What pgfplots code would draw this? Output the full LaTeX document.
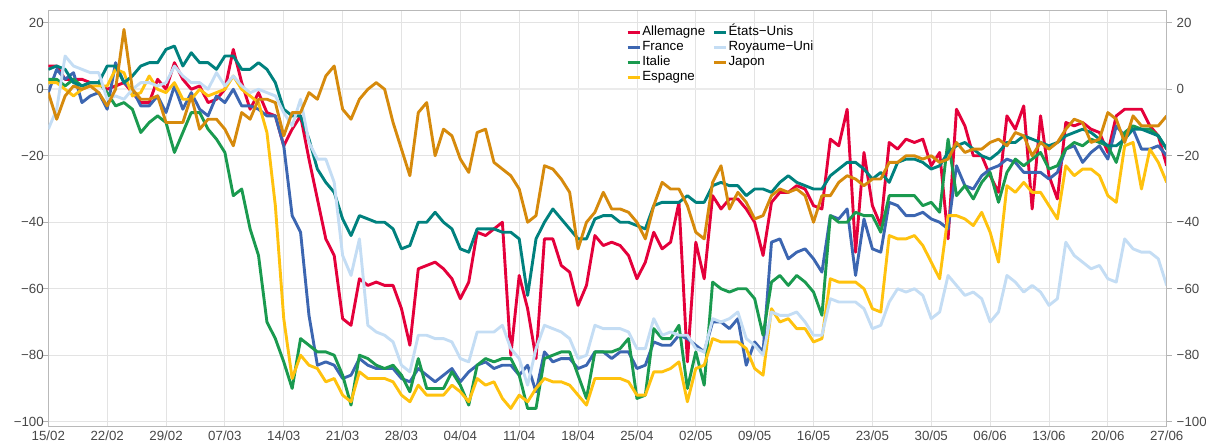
\documentclass[border=0pt]{standalone}
\usepackage{fontspec}
\setmainfont{Liberation Sans}
\usepackage{pgfplots}
\usepackage{pgfplotstable}
\pgfplotsset{compat=1.18}

\definecolor{de}{HTML}{E4003B}
\definecolor{fr}{HTML}{3C66B1}
\definecolor{it}{HTML}{1A9A4F}
\definecolor{es}{HTML}{FFC20E}
\definecolor{us}{HTML}{00817E}
\definecolor{uk}{HTML}{C4DDF4}
\definecolor{jp}{HTML}{D68A0C}

% one value per day, from 15/02 (day 0) to 27/06 (day 133)
\pgfplotstableread[row sep=\\]{v\\
7\\7\\3\\3\\3\\2\\2\\0\\1\\2\\-1\\-4\\-4\\3\\0\\8\\3\\0\\1\\-4\\-3\\0\\12\\
2\\-6\\-1\\-7\\-8\\-17\\-12\\-8\\-21\\-33\\-45\\-50\\-69\\-71\\-57\\-59\\-58\\-59\\-59\\-66\\-77\\-54\\-53\\
-52\\-54\\-57\\-63\\-58\\-43\\-44\\-42\\-40\\-80\\-56\\-66\\-81\\-45\\-45\\-53\\-55\\-65\\-59\\-44\\-47\\-46\\
-47\\-50\\-57\\-52\\-43\\-48\\-46\\-34\\-82\\-46\\-57\\-32\\-36\\-33\\-33\\-36\\-40\\-50\\-34\\-31\\-31\\-29\\-30\\
-35\\-36\\-15\\-17\\-6\\-49\\-19\\-35\\-41\\-16\\-18\\-15\\-16\\-15\\-23\\-19\\-45\\-6\\-11\\-20\\-20\\-26\\-31\\
-8\\-12\\-5\\-36\\-8\\-26\\-33\\-10\\-11\\-10\\-12\\-13\\-19\\-8\\-6\\-6\\-6\\-11\\-14\\-23\\
}\deTable

\pgfplotstableread[row sep=\\]{v\\
-1\\6\\3\\5\\-4\\-2\\-1\\-6\\8\\2\\0\\-5\\-5\\-2\\-7\\1\\-6\\-1\\-6\\-8\\-2\\-4\\0\\
-5\\-5\\-6\\-8\\-8\\-17\\-38\\-43\\-68\\-83\\-82\\-83\\-87\\-86\\-81\\-83\\-84\\-84\\-84\\-87\\-88\\-84\\-86\\
-88\\-86\\-84\\-88\\-85\\-83\\-82\\-84\\-83\\-83\\-86\\-83\\-91\\-79\\-82\\-81\\-81\\-84\\-83\\-79\\-79\\-81\\
-79\\-79\\-84\\-83\\-76\\-77\\-77\\-74\\-75\\-77\\-79\\-70\\-70\\-72\\-69\\-83\\-76\\-79\\-46\\-45\\-51\\-49\\-48\\
-51\\-55\\-38\\-39\\-36\\-56\\-39\\-48\\-49\\-34\\-35\\-38\\-38\\-37\\-39\\-40\\-42\\-23\\-29\\-30\\-26\\-24\\-23\\
-21\\-22\\-25\\-25\\-25\\-27\\-25\\-18\\-17\\-22\\-19\\-17\\-21\\-11\\-14\\-12\\-18\\-18\\-17\\-20\\
}\frTable

\pgfplotstableread[row sep=\\]{v\\
3\\3\\1\\3\\1\\2\\2\\-1\\-5\\-4\\-6\\-13\\-10\\-8\\-10\\-19\\-13\\-7\\-7\\-12\\-15\\-19\\-32\\
-30\\-42\\-50\\-70\\-75\\-82\\-90\\-75\\-77\\-79\\-79\\-80\\-86\\-95\\-80\\-81\\-83\\-84\\-83\\-86\\-91\\-81\\-90\\
-90\\-90\\-85\\-89\\-95\\-83\\-81\\-82\\-81\\-81\\-86\\-96\\-96\\-81\\-80\\-79\\-79\\-86\\-93\\-79\\-79\\-79\\
-78\\-75\\-93\\-92\\-72\\-75\\-75\\-71\\-90\\-79\\-89\\-58\\-60\\-61\\-60\\-60\\-63\\-74\\-58\\-56\\-59\\-56\\-58\\
-61\\-68\\-38\\-40\\-40\\-37\\-38\\-38\\-43\\-32\\-32\\-32\\-32\\-35\\-34\\-37\\-15\\-32\\-29\\-33\\-28\\-25\\-34\\
-25\\-21\\-23\\-21\\-19\\-24\\-23\\-18\\-16\\-17\\-15\\-16\\-17\\-22\\-13\\-11\\-12\\-12\\-14\\-18\\
}\itTable

\pgfplotstableread[row sep=\\]{v\\
2\\2\\0\\-2\\0\\1\\1\\1\\6\\5\\-2\\-1\\4\\0\\-1\\2\\-3\\-3\\0\\-2\\-1\\0\\4\\
0\\-2\\-4\\-13\\-35\\-69\\-87\\-80\\-83\\-84\\-88\\-87\\-92\\-94\\-85\\-87\\-87\\-87\\-88\\-92\\-94\\-89\\-92\\
-92\\-92\\-89\\-91\\-94\\-87\\-89\\-88\\-93\\-96\\-92\\-94\\-90\\-87\\-88\\-88\\-89\\-92\\-95\\-87\\-87\\-87\\
-87\\-88\\-92\\-92\\-85\\-85\\-84\\-82\\-94\\-84\\-83\\-75\\-76\\-76\\-76\\-78\\-84\\-86\\-66\\-70\\-69\\-72\\-72\\
-76\\-75\\-57\\-58\\-58\\-58\\-60\\-66\\-67\\-44\\-45\\-45\\-44\\-47\\-52\\-57\\-38\\-38\\-39\\-41\\-37\\-43\\-52\\
-29\\-31\\-28\\-31\\-31\\-35\\-39\\-23\\-26\\-24\\-24\\-26\\-32\\-34\\-17\\-16\\-30\\-18\\-22\\-28\\
}\esTable

\pgfplotstableread[row sep=\\]{v\\
6\\7\\6\\2\\1\\2\\2\\7\\7\\2\\4\\7\\8\\8\\12\\13\\7\\11\\8\\8\\6\\10\\10\\
6\\6\\8\\6\\2\\-6\\-8\\-8\\-15\\-24\\-28\\-31\\-39\\-44\\-38\\-39\\-40\\-40\\-42\\-48\\-47\\-40\\-40\\
-37\\-40\\-42\\-48\\-49\\-42\\-42\\-42\\-43\\-43\\-45\\-62\\-45\\-40\\-36\\-39\\-42\\-45\\-45\\-39\\-38\\-38\\
-40\\-40\\-41\\-42\\-35\\-34\\-34\\-34\\-32\\-34\\-34\\-29\\-28\\-29\\-29\\-32\\-30\\-30\\-31\\-28\\-26\\-28\\-29\\
-30\\-30\\-26\\-24\\-22\\-22\\-24\\-27\\-25\\-28\\-22\\-21\\-21\\-22\\-24\\-23\\-19\\-17\\-16\\-18\\-20\\-21\\-19\\
-16\\-16\\-14\\-15\\-16\\-17\\-16\\-14\\-13\\-12\\-13\\-15\\-17\\-17\\-15\\-12\\-12\\-13\\-14\\-18\\
}\usTable

\pgfplotstableread[row sep=\\]{v\\
-12\\-6\\10\\7\\6\\5\\5\\-3\\-2\\-3\\0\\2\\2\\1\\2\\7\\4\\2\\2\\0\\5\\1\\4\\
1\\-1\\0\\-1\\-2\\-7\\-11\\-3\\-16\\-21\\-21\\-28\\-50\\-56\\-45\\-71\\-73\\-74\\-76\\-83\\-85\\-74\\-74\\
-75\\-75\\-76\\-81\\-82\\-73\\-73\\-73\\-71\\-78\\-81\\-89\\-78\\-71\\-72\\-73\\-75\\-81\\-80\\-71\\-72\\-72\\
-72\\-73\\-78\\-78\\-69\\-74\\-73\\-74\\-74\\-78\\-79\\-69\\-70\\-69\\-67\\-75\\-77\\-80\\-67\\-68\\-68\\-67\\-70\\
-74\\-74\\-63\\-64\\-64\\-64\\-66\\-72\\-71\\-64\\-60\\-61\\-60\\-62\\-69\\-67\\-56\\-59\\-62\\-61\\-63\\-70\\-67\\
-56\\-58\\-61\\-59\\-61\\-65\\-63\\-46\\-50\\-52\\-54\\-53\\-57\\-58\\-45\\-48\\-49\\-49\\-51\\-59\\
}\ukTable

\pgfplotstableread[row sep=\\]{v\\
-1\\-9\\-2\\1\\0\\1\\-1\\-5\\0\\18\\0\\-3\\-3\\-2\\-10\\-10\\-10\\-2\\-12\\-9\\-9\\-12\\-17\\
-7\\-9\\-3\\-3\\-4\\-14\\-7\\-7\\-1\\-3\\4\\7\\-6\\-9\\-3\\0\\2\\0\\-10\\-18\\-26\\-7\\-4\\
-20\\-12\\-14\\-21\\-25\\-13\\-12\\-22\\-24\\-26\\-30\\-40\\-38\\-23\\-24\\-27\\-31\\-48\\-40\\-37\\-31\\-36\\
-36\\-37\\-40\\-45\\-35\\-28\\-30\\-30\\-35\\-43\\-45\\-28\\-23\\-36\\-31\\-34\\-39\\-38\\-32\\-30\\-31\\-30\\-32\\
-40\\-32\\-32\\-28\\-26\\-27\\-29\\-27\\-27\\-22\\-22\\-20\\-20\\-21\\-20\\-22\\-21\\-16\\-19\\-18\\-18\\-16\\-15\\
-17\\-13\\-14\\-20\\-16\\-18\\-16\\-12\\-9\\-10\\-16\\-15\\-7\\-9\\-16\\-8\\-11\\-11\\-11\\-8\\
}\jpTable

\pgfplotsset{
  base/.style={
    scale only axis, width=1118.4pt, height=416.7pt,
    xmin=0, xmax=133, ymin=-101.5, ymax=23.85,
    ytick={-100,-80,...,20},
    yticklabels={−100,−80,−60,−40,−20,0,20},
    tick align=outside, major tick length=5pt,
    ytick style={draw=gray!60, line width=0.8pt},
    axis line style={draw=gray!55, line width=0.8pt},
    tick label style={font=\fontsize{13.3}{15}\selectfont, text=black!72},
  },
  serie/.style={#1, line width=2.9pt, line join=round, forget plot},
}

\begin{document}
\begin{tikzpicture}
\begin{axis}[
  base,
  xtick={0,7,...,133},
  xticklabels={15/02,22/02,29/02,07/03,14/03,21/03,28/03,04/04,11/04,18/04,25/04,02/05,09/05,16/05,23/05,30/05,06/06,13/06,20/06,27/06},
  xtick style={draw=none},
  ytick pos=left,
  grid=major,
  major grid style={draw=gray!22, line width=0.8pt},
  xticklabel style={yshift=4pt},
  yticklabel style={xshift=4pt},
  legend columns=2,
  legend cell align=left,
  legend image code/.code={\draw[line width=3pt] (0pt,0pt) -- (12pt,0pt);},
  legend style={draw=none, fill=none, at={(0.5165,0.964)}, anchor=north west,
    font=\fontsize{13.3}{15}\selectfont, inner sep=0pt,
    nodes={inner sep=1.2pt, text height=9.6pt, text depth=2.9pt},
    /tikz/every even column/.append style={column sep=6pt}},
]
\draw[gray!16, line width=2pt] (axis cs:0,0) -- (axis cs:133,0);

\addplot[serie=de] table[x expr=\coordindex, y=v] {\deTable};
\addplot[serie=fr] table[x expr=\coordindex, y=v] {\frTable};
\addplot[serie=it] table[x expr=\coordindex, y=v] {\itTable};
\addplot[serie=es] table[x expr=\coordindex, y=v] {\esTable};
\addplot[serie=us] table[x expr=\coordindex, y=v] {\usTable};
\addplot[serie=uk] table[x expr=\coordindex, y=v] {\ukTable};
\addplot[serie=jp] table[x expr=\coordindex, y=v] {\jpTable};

\addlegendimage{de}\addlegendentry{Allemagne}
\addlegendimage{us}\addlegendentry{États−Unis}
\addlegendimage{fr}\addlegendentry{France}
\addlegendimage{uk}\addlegendentry{Royaume−Uni}
\addlegendimage{it}\addlegendentry{Italie}
\addlegendimage{jp}\addlegendentry{Japon}
\addlegendimage{es}\addlegendentry{Espagne}

\draw[gray!55, line width=2pt] (rel axis cs:0,0) -- (rel axis cs:1,0);
\end{axis}

\begin{axis}[
  base,
  axis y line*=right, axis x line=none,
  yticklabel style={xshift=1.5pt},
]
\addplot[draw=none] coordinates {(0,0)};
\end{axis}

\path (current axis.south west) ++(-48.3pt,-18.3pt) coordinate (bbA);
\path (current axis.north east) ++(39.3pt,10pt) coordinate (bbB);
\pgfresetboundingbox
\path[use as bounding box] (bbA) rectangle (bbB);
\end{tikzpicture}
\end{document}
